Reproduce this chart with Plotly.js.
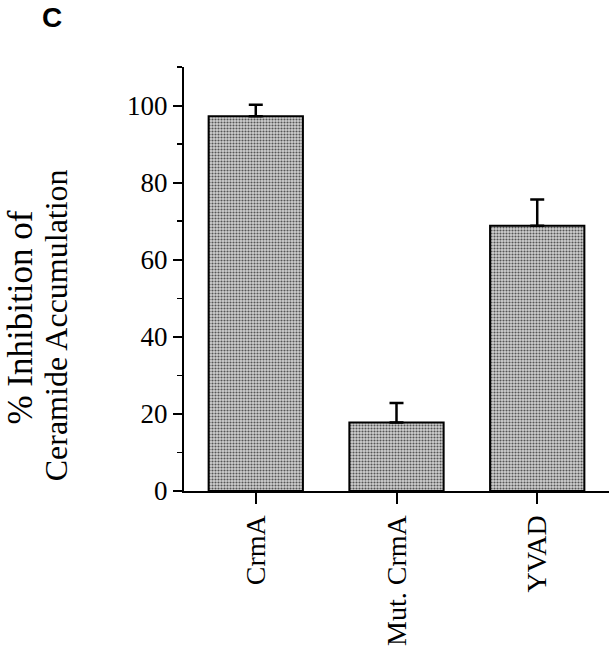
<!DOCTYPE html>
<html><head><meta charset="utf-8">
<script src="https://cdn.plot.ly/plotly-3.0.1.min.js"></script>
<style>body{margin:0;background:#fff}#c{width:611px;height:647px}</style>
</head><body><div id="c"></div>
<script>
const categories = ["CrmA", "Mut. CrmA", "YVAD"];
const values = [97.2, 17.8, 68.8];
const errors = [3.0, 5.0, 6.8];
const yTickVals = [0, 20, 40, 60, 80, 100];
const yTitleLines = ['% Inhibition of', 'Ceramide Accumulation'];
const panelLabel = 'C';

const trace = {
  type: 'bar',
  x: categories,
  y: values,
  width: 0.67,
  marker: {
    color: '#c8c8c8',
    line: {color: '#000', width: 2},
    pattern: {shape: '.', fgcolor: '#555', bgcolor: '#d0d0d0', size: 3, solidity: 0.4}
  },
  error_y: {type: 'data', array: errors, symmetric: false, arrayminus: [0,0,0], color: '#000', thickness: 2.5, width: 7},
  hoverinfo: 'none'
};

const titleFont = s => ({family: 'Liberation Serif, Times New Roman, serif', size: s, color: '#000'});

const layout = {
  width: 611, height: 647,
  margin: {l: 184, r: 2, t: 67, b: 156},
  paper_bgcolor: '#fff', plot_bgcolor: '#fff',
  showlegend: false,
  font: {family: 'Liberation Serif, Times New Roman, serif', color: '#000'},
  xaxis: {
    type: 'category', range: [-0.51, 2.51],
    showline: true, linecolor: '#000', linewidth: 2,
    ticks: 'outside', ticklen: 11, tickwidth: 2, tickcolor: '#000',
    tickangle: -90, tickfont: {size: 28}, showgrid: false, zeroline: false
  },
  yaxis: {
    range: [0, 110], tickvals: yTickVals,
    showline: true, linecolor: '#000', linewidth: 2,
    ticks: 'outside', ticklen: 9, tickwidth: 2, tickcolor: '#000',
    minor: {dtick: 10, ticks: 'outside', ticklen: 5, tickwidth: 1.5, tickcolor: '#000', showgrid: false},
    tickfont: {size: 27}, showgrid: false, zeroline: false
  },
  annotations: [
    {
      text: yTitleLines[0], xref: 'paper', yref: 'paper', x: -0.385, y: 0.41,
      xanchor: 'center', yanchor: 'middle', textangle: -90, showarrow: false,
      font: titleFont(35)
    },
    {
      text: yTitleLines[1], xref: 'paper', yref: 'paper', x: -0.302, y: 0.39,
      xanchor: 'center', yanchor: 'middle', textangle: -90, showarrow: false,
      font: titleFont(32)
    },
    {
      text: '<b>' + panelLabel + '</b>', xref: 'paper', yref: 'paper', x: -0.338, y: 1.116,
      xanchor: 'left', yanchor: 'middle', showarrow: false,
      font: {family: 'Liberation Sans, Arial, sans-serif', size: 28, color: '#000'}
    }
  ]
};

Plotly.newPlot('c', [trace], layout, {displayModeBar: false, staticPlot: true});
</script></body></html>
